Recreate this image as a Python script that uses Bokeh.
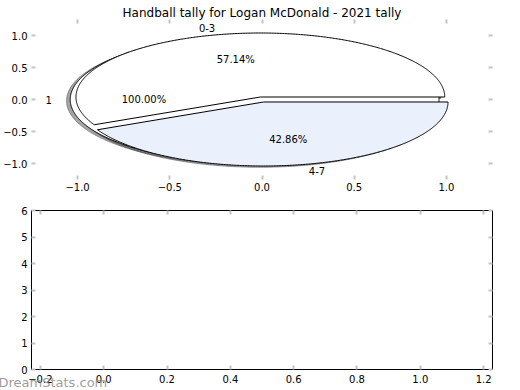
import numpy as np
from bokeh.plotting import figure
from bokeh.layouts import column
from bokeh.models import (FixedTicker, CustomJSTickFormatter, LinearAxis, Range1d,
                          ColumnDataSource, Title)
from bokeh.embed import file_html
from bokeh.resources import INLINE
from bokeh.core.properties import value

# ---------------- data ----------------
title_text = "Handball tally for Logan McDonald - 2021 tally"
pie1_labels = ["1"]
pie1_values = [1]
pie2_labels = ["0-3", "4-7"]
pie2_values = [4, 3]
pie_colors = ["#ffffff", "#eaf1fd"]
top_xticks = [-1.0, -0.5, 0.0, 0.5, 1.0]
top_yticks = [-1.0, -0.5, 0.0, 0.5, 1.0]
bottom_xticks = [-0.2, 0.0, 0.2, 0.4, 0.6, 0.8, 1.0, 1.2]
bottom_yticks = [0, 1, 2, 3, 4, 5, 6]
watermark = "DreamStats.com"

# ---------------- style ----------------
FONT = "DejaVu Sans"
EXPLODE = 0.04
SHADOW = (-0.02, -0.02)
TICK_COLOR = "#c4c4c4"


def pie_parts(values, labels, explode):
    total = float(sum(values))
    parts = []
    a0 = 0.0
    for i, (v, lab) in enumerate(zip(values, labels)):
        frac = v / total
        a1 = a0 + 360.0 * frac
        mid = np.radians((a0 + a1) / 2.0)
        cx, cy = explode * np.cos(mid), explode * np.sin(mid)
        n = max(int(abs(a1 - a0)) * 2, 4)
        t = np.radians(np.linspace(a0, a1, n))
        xs = list(cx + np.cos(t))
        ys = list(cy + np.sin(t))
        if frac < 0.9999:
            xs = [cx] + xs + [cx]
            ys = [cy] + ys + [cy]
        xt = cx + 1.1 * np.cos(mid)
        yt = cy + 1.1 * np.sin(mid)
        parts.append(dict(xs=xs, ys=ys, color=pie_colors[i % len(pie_colors)],
                          lx=xt, ly=yt, label=lab,
                          align="left" if xt > 0 else "right",
                          px=cx + 0.6 * np.cos(mid), py=cy + 0.6 * np.sin(mid),
                          pct="%1.2f%%" % (frac * 100.0)))
        a0 = a1
    return parts


def shade(hexcol):
    h = hexcol.lstrip("#")
    r, g, b = (int(h[i:i + 2], 16) for i in (0, 2, 4))
    return "#%02x%02x%02x" % (int(r * 0.3), int(g * 0.3), int(b * 0.3))


def style_axes(p, xticks, yticks, fmt_x, fmt_y, standoff_x, standoff_y):
    for loc, ticks in (("above", xticks), ("right", yticks)):
        ax = LinearAxis(ticker=FixedTicker(ticks=ticks))
        ax.major_label_text_font_size = "0px"
        ax.major_label_text_color = None
        ax.major_label_standoff = 0
        p.add_layout(ax, loc)
    for ax in p.xaxis:
        ax.ticker = FixedTicker(ticks=xticks)
        ax.formatter = fmt_x
    for ax in p.yaxis:
        ax.ticker = FixedTicker(ticks=yticks)
        ax.formatter = fmt_y
    for ax in p.axis:
        ax.axis_line_color = None
        ax.major_tick_line_color = TICK_COLOR
        ax.major_tick_line_width = 2
        ax.major_tick_in = 4
        ax.major_tick_out = 0
        ax.minor_tick_line_color = None
        ax.major_label_text_font = FONT
    for ax, so in ((p.below[0], standoff_x), (p.left[0], standoff_y)):
        ax.major_label_text_font_size = "10px"
        ax.major_label_text_color = "black"
        ax.major_label_standoff = so
    p.xgrid.visible = False
    p.ygrid.visible = False


fmt1 = CustomJSTickFormatter(code="return tick.toFixed(1).replace('-', '\\u2212');")

# ---------------- top: pies ----------------
p1 = figure(width=520, height=202, output_backend="svg", toolbar_location=None,
            x_range=Range1d(-1.25, 1.25), y_range=Range1d(-1.25, 1.25),
            min_border_left=29, min_border_right=28, min_border_top=19,
            min_border_bottom=23, background_fill_color="white",
            border_fill_color="white")
p1.outline_line_color = None
p1.title.text = title_text
p1.title.align = "center"
p1.title.text_font = FONT
p1.title.text_font_size = "12px"
p1.title.text_font_style = "normal"
p1.title.text_color = "black"
p1.title.standoff = 0
style_axes(p1, top_xticks, top_yticks, fmt1, fmt1, 3, 4)

parts1 = pie_parts(pie1_values, pie1_labels, EXPLODE)
parts2 = pie_parts(pie2_values, pie2_labels, EXPLODE)
allparts = parts1 + parts2

# shadows (behind every wedge)
p1.patches(xs=[[x + SHADOW[0] for x in q["xs"]] for q in allparts],
           ys=[[y + SHADOW[1] for y in q["ys"]] for q in allparts],
           fill_color=[shade(q["color"]) for q in allparts],
           line_color=[shade(q["color"]) for q in allparts],
           fill_alpha=0.5, line_alpha=0.5)
# wedges
p1.patches(xs=[q["xs"] for q in allparts], ys=[q["ys"] for q in allparts],
           fill_color=[q["color"] for q in allparts], line_color="black",
           line_width=1)

lab_src = ColumnDataSource(dict(x=[q["lx"] for q in allparts], y=[q["ly"] for q in allparts],
                                text=[q["label"] for q in allparts],
                                align=[q["align"] for q in allparts]))
p1.text(x="x", y="y", text="text", text_align="align", text_baseline="middle",
        text_font=value(FONT), text_font_size=value("10px"), text_color="black",
        source=lab_src)
pct_src = ColumnDataSource(dict(x=[q["px"] for q in allparts], y=[q["py"] for q in allparts],
                                text=[q["pct"] for q in allparts]))
p1.text(x="x", y="y", text="text", text_align="center", text_baseline="middle",
        text_font=value(FONT), text_font_size=value("10px"), text_color="black",
        source=pct_src)

# ---------------- bottom: empty axes ----------------
fmt_int = CustomJSTickFormatter(code="return tick.toFixed(0);")
p2 = figure(width=520, height=188, output_backend="svg", toolbar_location=None,
            x_range=Range1d(-0.228, 1.228), y_range=Range1d(0, 6),
            min_border_left=25, min_border_right=27, min_border_top=8,
            min_border_bottom=21, background_fill_color="white",
            border_fill_color="white")
p2.outline_line_color = "black"
p2.outline_line_width = 1
p2.outline_line_alpha = 1
style_axes(p2, bottom_xticks, bottom_yticks, fmt1, fmt_int, 5, 4)

wm_title = Title(text=watermark, align="left", offset=-33, standoff=-22,
                 vertical_align="top",
                 text_font=FONT, text_font_size="13px", text_font_style="normal",
                 text_color="#8a8a8a", text_alpha=0.85)
p2.add_layout(wm_title, "below")

layout = column(p1, p2, spacing=0)
open("out.html", "w").write(file_html(layout, INLINE))
